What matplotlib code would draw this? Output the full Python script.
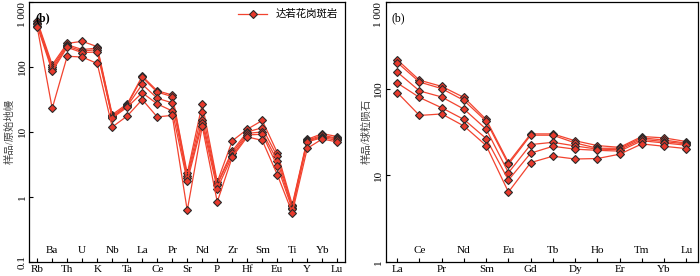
import matplotlib
matplotlib.use("Agg")
import matplotlib.pyplot as plt
import matplotlib.transforms as mtransforms
from matplotlib.ticker import NullLocator

plt.rcParams['font.family'] = ['Liberation Serif', 'Noto Sans CJK SC']
plt.rcParams['axes.unicode_minus'] = False

# trace elements, primitive-mantle normalised
spider_elements = ['Rb', 'Ba', 'Th', 'U', 'K', 'Nb', 'Ta', 'La', 'Ce', 'Pr', 'Sr',
                   'Nd', 'P', 'Zr', 'Hf', 'Sm', 'Eu', 'Ti', 'Y', 'Yb', 'Lu']
spider_s1 = [510, 108, 230, 248, 205, 18.5, 27, 72, 43, 37, 2.3, 27, 1.7, 7.3, 11, 15, 4.8, 0.76, 7.7, 9.4, 8.5]
spider_s2 = [480, 100, 220, 185, 195, 17.5, 26, 69, 41, 35, 2.1, 20, 1.6, 5.1, 10, 11.6, 4.2, 0.72, 7.4, 8.9, 8.0]
spider_s3 = [460, 92, 210, 175, 185, 17.0, 25, 54, 33, 28, 1.95, 15.5, 1.55, 4.7, 9.5, 10, 3.6, 0.68, 7.2, 8.5, 7.8]
spider_s4 = [430, 86, 200, 166, 170, 16.4, 24, 40, 27, 21, 1.75, 13.5, 1.34, 4.3, 9.0, 9.2, 3.0, 0.65, 7.0, 8.2, 7.4]
spider_s5 = [410, 23, 146, 142, 113, 11.9, 17.6, 31.5, 17, 18, 0.62, 12.2, 0.84, 4.1, 8.4, 7.4, 2.2, 0.57, 5.6, 7.8, 7.0]

# REE, chondrite normalised
ree_elements = ['La', 'Ce', 'Pr', 'Nd', 'Sm', 'Eu', 'Gd', 'Tb', 'Dy', 'Ho', 'Er', 'Tm', 'Yb', 'Lu']
ree_s1 = [215, 125, 106, 79, 44, 14.0, 30, 30, 25, 22, 21, 28, 27, 24.5]
ree_s2 = [200, 119, 100, 73, 42, 13.4, 29, 29, 23.6, 20.5, 20.5, 27, 25.5, 23.5]
ree_s3 = [155, 94, 80, 58, 34, 10.7, 22.6, 24, 21.8, 20, 19.8, 26, 24.5, 23]
ree_s4 = [116, 79, 60, 44, 26.5, 8.8, 18, 21.6, 20, 19.4, 19, 25, 23.6, 22.2]
ree_s5 = [90, 49, 51, 37, 22, 6.4, 14, 16.6, 15.4, 15.6, 17.5, 23, 21.6, 20.3]

legend_label = '达若花岗斑岩'

line_color = '#f2432f'
face_color = '#e8392c'
edge_color = '#2a2a2a'


def draw_panel(ax, elements, samples, yticks, ylabels, ylim, ylabel, tag, tag_bold):
    x = list(range(len(elements)))
    for i, s in enumerate(samples):
        ax.plot(x, s, color=line_color, lw=0.9, marker='D', markersize=4,
                markerfacecolor=face_color, markeredgecolor=edge_color,
                markeredgewidth=0.8, label=legend_label if i == 0 else None)
    ax.set_yscale('log')
    ax.set_ylim(*ylim)
    ax.set_xlim(-0.52, len(elements) - 0.48)
    ax.set_yticks(yticks)
    ax.set_yticklabels(ylabels, rotation=90, va='center', fontsize=8)
    # top label would be clipped, hang it below its tick
    ax.get_yticklabels()[-1].set_va('top')
    ax.yaxis.set_minor_locator(NullLocator())
    ax.set_xticks(x)
    ax.set_xticklabels([e if i % 2 == 0 else '' for i, e in enumerate(elements)], fontsize=8)
    ax.tick_params(axis='both', direction='in', length=3, width=0.8, pad=2)
    # alternate labels sit just inside the bottom spine
    trans = mtransforms.blended_transform_factory(ax.transData, ax.transAxes)
    for i, e in enumerate(elements):
        if i % 2 == 1:
            ax.text(i, 0.045, e, transform=trans, ha='center', va='center', fontsize=8)
    for sp in ax.spines.values():
        sp.set_linewidth(0.9)
    ax.set_ylabel(ylabel, fontsize=7.5, labelpad=2, color='#444444')
    ax.text(0.02, 0.96, tag, transform=ax.transAxes, ha='left', va='top', fontsize=8.5,
            fontweight='bold' if tag_bold else 'normal')


fig = plt.figure(figsize=(7, 2.76), dpi=100)
ax1 = fig.add_axes([0.042, 0.051, 0.451, 0.942])
ax2 = fig.add_axes([0.551, 0.051, 0.446, 0.942])

draw_panel(ax1, spider_elements, [spider_s1, spider_s2, spider_s3, spider_s4, spider_s5],
           [0.1, 1, 10, 100, 1000], ['0.1', '1', '10', '100', '1 000'], (0.1, 1000),
           '样品/原始地幔', '(b)', True)
draw_panel(ax2, ree_elements, [ree_s1, ree_s2, ree_s3, ree_s4, ree_s5],
           [1, 10, 100, 1000], ['1', '10', '100', '1 000'], (1, 1000),
           '样品/球粒陨石', '(b)', False)

ax1.legend(loc='upper right', frameon=False, fontsize=7.5, handlelength=2.8,
           borderaxespad=0.3, bbox_to_anchor=(1.0, 1.0))

fig.savefig('out.png', dpi=100)
